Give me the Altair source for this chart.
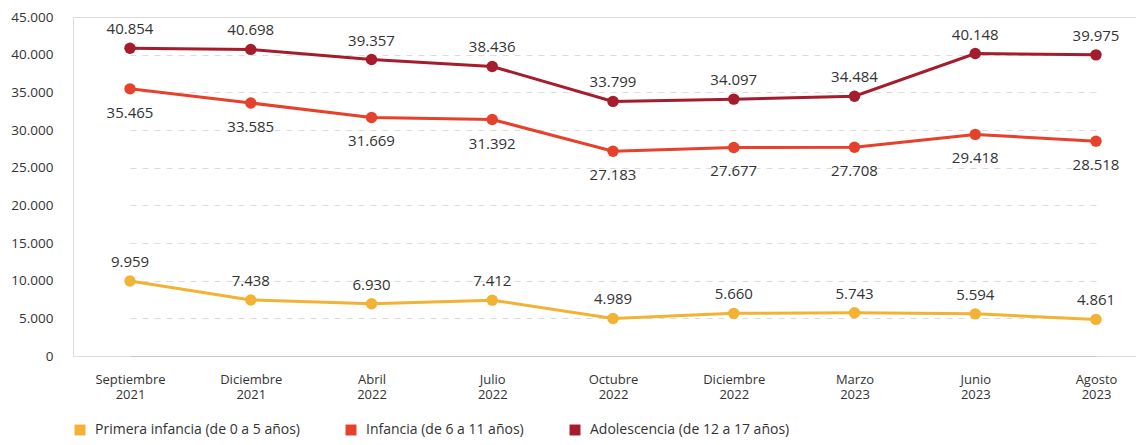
import altair as alt
import pandas as pd

periods = ["Septiembre 2021", "Diciembre 2021", "Abril 2022", "Julio 2022", "Octubre 2022",
           "Diciembre 2022", "Marzo 2023", "Junio 2023", "Agosto 2023"]
period_keys = [f"{i}|{p}" for i, p in enumerate(periods)]
series_names = ["Primera infancia (de 0 a 5 años)", "Infancia (de 6 a 11 años)",
                "Adolescencia (de 12 a 17 años)"]
primera = [9959, 7438, 6930, 7412, 4989, 5660, 5743, 5594, 4861]
infancia = [35465, 33585, 31669, 31392, 27183, 27677, 27708, 29418, 28518]
adolescencia = [40854, 40698, 39357, 38436, 33799, 34097, 34484, 40148, 39975]
colors = ["#F2B233", "#E5412B", "#A51C2C"]
label_pos = ["arriba", "abajo", "arriba"]

rows = []
for name, vals, pos in zip(series_names, [primera, infancia, adolescencia], label_pos):
    for k, v in zip(period_keys, vals):
        rows.append({"periodo": k, "serie": name, "valor": v, "pos": pos})
df = pd.DataFrame(rows)

FONT = "Open Sans"
TXT = "#333333"
x = alt.X("periodo:N", sort=period_keys, title=None,
          scale=alt.Scale(type="point", range=[57, 1023], padding=0),
          axis=alt.Axis(labelExpr="split(split(datum.label, '|')[1], ' ')", labelAngle=0,
                        labelFontSize=13, labelColor=TXT, labelPadding=17,
                        labelLineHeight=15, ticks=False, domain=True, domainColor="#c8c8c8",
                        grid=False, labelFont=FONT))
y = alt.Y("valor:Q", title=None,
          scale=alt.Scale(domain=[0, 45000]),
          axis=alt.Axis(values=list(range(0, 45001, 5000)), format=",.0f", labelFontSize=13.5,
                        labelColor=TXT, labelPadding=20, ticks=False, domain=False,
                        grid=True, gridColor="#dcdcdc", gridDash=[6, 6], labelFont=FONT))
color = alt.Color("serie:N", sort=series_names,
                  scale=alt.Scale(domain=series_names, range=colors),
                  legend=alt.Legend(title=None, orient="none", legendX=0, legendY=406,
                                    direction="horizontal", symbolType="square",
                                    symbolSize=120, symbolStrokeWidth=0, labelFontSize=14,
                                    labelColor=TXT, labelFont=FONT, columnPadding=44,
                                    labelOffset=8, labelLimit=0))

base = alt.Chart(df)
lines = base.mark_line(strokeWidth=3).encode(x=x, y=y, color=color, detail="serie:N")
points = base.mark_circle(size=130, opacity=1).encode(x=x, y=y, color=color)
up = base.transform_filter(alt.datum.pos == "arriba").mark_text(
    dy=-19, fontSize=15, color=TXT, font=FONT).encode(x=x, y=y, text=alt.Text("valor:Q", format=",.0f"))
down = base.transform_filter(alt.datum.pos == "abajo").mark_text(
    dy=24, fontSize=15, color=TXT, font=FONT).encode(x=x, y=y, text=alt.Text("valor:Q", format=",.0f"))

chart = alt.layer(lines, points, up, down).properties(
    width=1063, height=339, padding={"left": 2, "top": 2, "right": 0, "bottom": 0}
).configure_view(stroke=None).configure(background="white")

chart.save("out.html", embed_options={"renderer": "svg", "actions": False,
                                      "formatLocale": {"decimal": ",", "thousands": ".",
                                                       "grouping": [3], "currency": ["", "€"]}})
